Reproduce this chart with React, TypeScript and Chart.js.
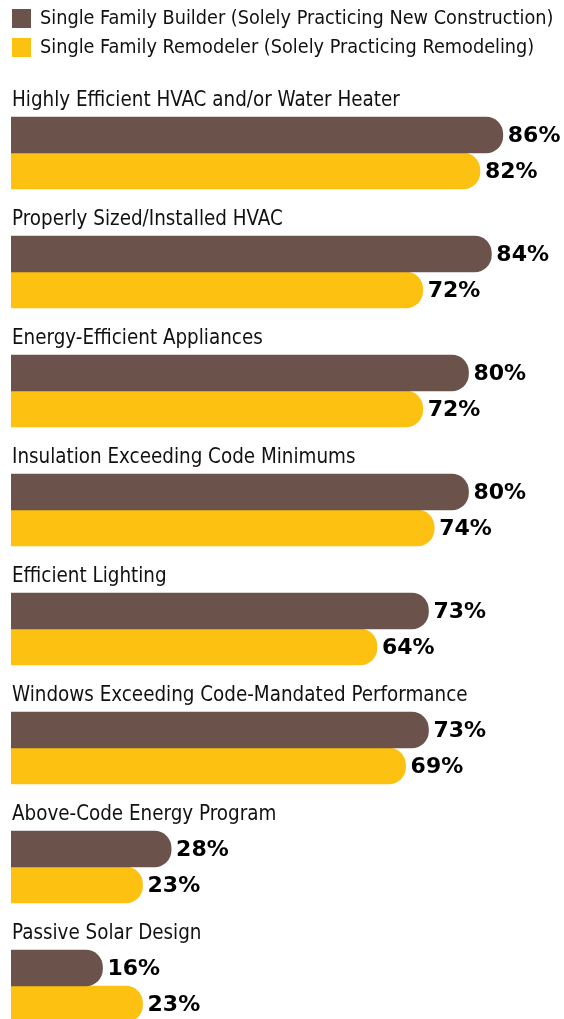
import React, { useEffect, useRef } from "react";
import { Chart, registerables } from "chart.js";

Chart.register(...registerables);

const categories = [
  "Highly Efficient HVAC and/or Water Heater",
  "Properly Sized/Installed HVAC",
  "Energy-Efficient Appliances",
  "Insulation Exceeding Code Minimums",
  "Efficient Lighting",
  "Windows Exceeding Code-Mandated Performance",
  "Above-Code Energy Program",
  "Passive Solar Design",
];
const seriesNames = [
  "Single Family Builder (Solely Practicing New Construction)",
  "Single Family Remodeler (Solely Practicing Remodeling)",
];
const builderValues = [86, 84, 80, 80, 73, 73, 28, 16];
const remodelerValues = [82, 72, 72, 74, 64, 69, 23, 23];

const BROWN = "#6B534B";
const YELLOW = "#FDC111";
const FAMILY = '"Liberation Sans Narrow", "DejaVu Sans Condensed", "Roboto", sans-serif';
const LEGEND_FONT = "19.7px " + FAMILY;
const LABEL_FONT = "20.4px " + FAMILY;
const VALUE_FONT = 'bold 22px "DejaVu Sans", "Liberation Sans", sans-serif';

const overlayPlugin = {
  id: "overlay",
  afterDatasetsDraw(chart: any) {
    const ctx = chart.ctx as CanvasRenderingContext2D;
    ctx.save();
    // legend
    const colors = [BROWN, YELLOW];
    const legendY = [9, 38];
    ctx.font = LEGEND_FONT;
    ctx.textBaseline = "middle";
    ctx.textAlign = "left";
    seriesNames.forEach((name, i) => {
      ctx.fillStyle = colors[i];
      ctx.fillRect(12, legendY[i], 19, 19);
      ctx.fillStyle = "#111111";
      ctx.fillText(name, 40, legendY[i] + 10);
    });
    // category labels
    const meta0 = chart.getDatasetMeta(0);
    ctx.textBaseline = "alphabetic";
    ctx.font = LABEL_FONT;
    categories.forEach((cat, i) => {
      const bar = meta0.data[i];
      const top = bar.y - bar.height / 2;
      ctx.fillStyle = "#111111";
      ctx.fillText(cat, 12, top - 11);
    });
    // value labels
    ctx.font = VALUE_FONT;
    ctx.textBaseline = "middle";
    chart.data.datasets.forEach((ds: any, di: number) => {
      const meta = chart.getDatasetMeta(di);
      meta.data.forEach((bar: any, i: number) => {
        ctx.fillStyle = "#000000";
        ctx.fillText(ds.data[i] + "%", bar.x + 5, bar.y + 1);
      });
    });
    ctx.restore();
  },
};

export default function App() {
  const canvasRef = useRef<HTMLCanvasElement | null>(null);

  useEffect(() => {
    if (!canvasRef.current) return;
    const chart = new Chart(canvasRef.current, {
      type: "bar",
      data: {
        labels: categories,
        datasets: [
          {
            label: seriesNames[0],
            data: builderValues,
            backgroundColor: BROWN,
            barThickness: 36,
            borderRadius: 17,
            borderSkipped: "start",
          },
          {
            label: seriesNames[1],
            data: remodelerValues,
            backgroundColor: YELLOW,
            barThickness: 36,
            borderRadius: 17,
            borderSkipped: "start",
          },
        ],
      },
      options: {
        indexAxis: "y",
        responsive: false,
        animation: false,
        devicePixelRatio: 1,
        layout: { padding: { left: 11, top: 93.5, right: 0, bottom: 4.5 } },
        scales: {
          x: { display: false, min: 0, max: 96.7 },
          y: { display: false },
        },
        plugins: {
          legend: { display: false },
          tooltip: { enabled: false },
        },
      },
      plugins: [overlayPlugin],
    });
    return () => chart.destroy();
  }, []);

  return (
    <div
      style={{
        position: "absolute",
        top: 0,
        left: 0,
        width: 564,
        height: 1019,
        overflow: "hidden",
        background: "#ffffff",
      }}
    >
      <canvas ref={canvasRef} width={564} height={1050} style={{ display: "block" }} />
    </div>
  );
}
